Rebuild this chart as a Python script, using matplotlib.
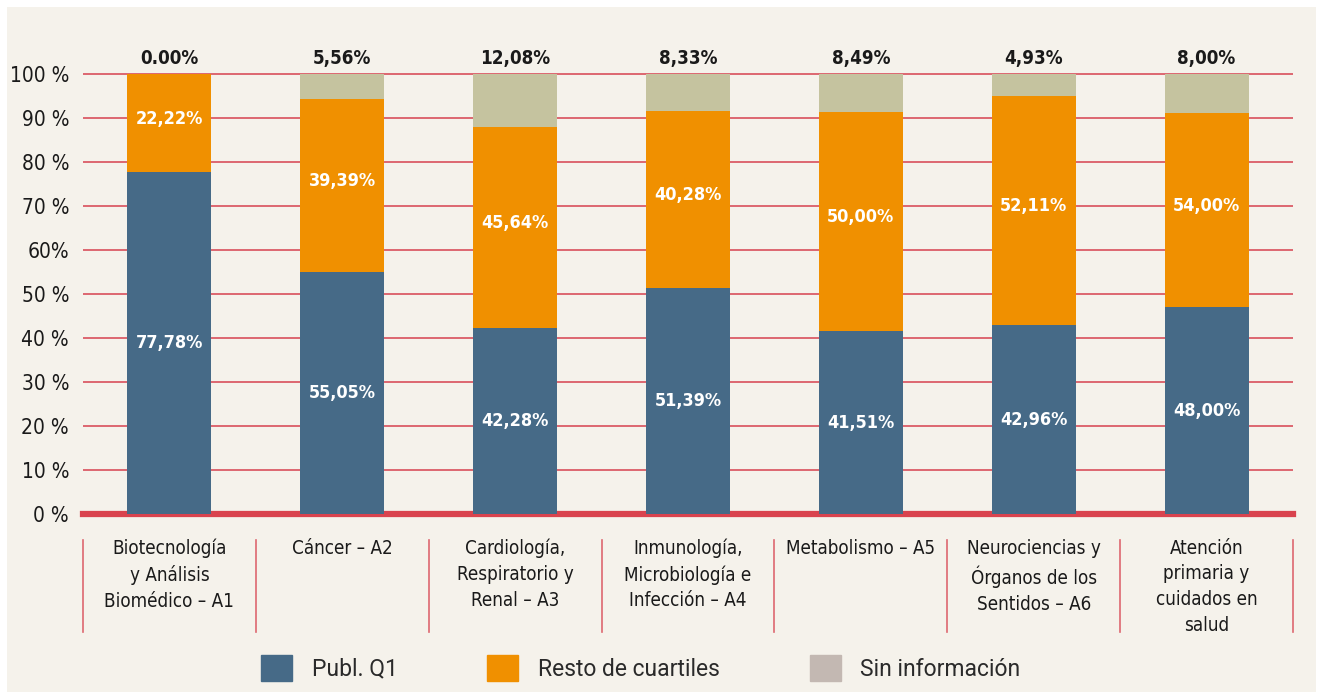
import matplotlib
matplotlib.use('Agg')
import matplotlib.pyplot as plt
from matplotlib.patches import Rectangle, Patch

plt.rcParams['font.family'] = ['DejaVu Sans']
plt.rcParams['font.stretch'] = 'condensed'

categories = ['Biotecnología\ny Análisis\nBiomédico – A1', 'Cáncer – A2',
              'Cardiología,\nRespiratorio y\nRenal – A3', 'Inmunología,\nMicrobiología e\nInfección – A4',
              'Metabolismo – A5', 'Neurociencias y\nÓrganos de los\nSentidos – A6',
              'Atención\nprimaria y\ncuidados en\nsalud']
# heights as drawn in the original (last group is rescaled there)
q1 = [77.78, 55.05, 42.28, 51.39, 41.51, 42.96, 47.0]
resto = [22.22, 39.39, 45.64, 40.28, 50.00, 52.11, 44.2]
sin_info = [0.00, 5.56, 12.08, 8.33, 8.49, 4.93, 8.8]
# labels as printed
q1_lbl = ['77,78%', '55,05%', '42,28%', '51,39%', '41,51%', '42,96%', '48,00%']
resto_lbl = ['22,22%', '39,39%', '45,64%', '40,28%', '50,00%', '52,11%', '54,00%']
sin_lbl = ['0.00%', '5,56%', '12,08%', '8,33%', '8,49%', '4,93%', '8,00%']
yticks = [0, 10, 20, 30, 40, 50, 60, 70, 80, 90, 100]
ytick_lbl = ['0 %', '10 %', '20 %', '30 %', '40 %', '50 %', '60%', '70 %', '80 %', '90 %', '100 %']

c_blue = '#466A87'
c_orange = '#F09000'
c_grey = '#C5C39F'
c_grey_leg = '#C3B8B2'
c_red = '#DD6770'
bg = '#F5F2EB'

fig = plt.figure(figsize=(13.23, 6.99), dpi=100, facecolor='white')
fig.add_artist(Rectangle((7/1323, 7/699), 1309/1323, 685/699, transform=fig.transFigure,
                         facecolor=bg, edgecolor='none', zorder=0))
ax = fig.add_axes([83/1323, (699-514)/699, 1210/1323, 441/699])
ax.set_facecolor('none')

x = list(range(len(categories)))
w = 0.486
bottom2 = [a + b for a, b in zip(q1, resto)]
ax.bar(x, q1, w, color=c_blue, zorder=3)
ax.bar(x, resto, w, bottom=q1, color=c_orange, zorder=3)
ax.bar(x, sin_info, w, bottom=bottom2, color=c_grey, zorder=3)

for i in x:
    ax.text(i, q1[i] / 2, q1_lbl[i], ha='center', va='center', color='white',
            fontsize=13, fontweight='bold', zorder=4)
    ax.text(i, q1[i] + resto[i] / 2 + 1, resto_lbl[i], ha='center', va='center', color='white',
            fontsize=13, fontweight='bold', zorder=4)
    ax.text(i, 103.7, sin_lbl[i], ha='center', va='center', color='#1a1a1a',
            fontsize=13.5, fontweight='bold', clip_on=False)
    ax.text(i, -5.6, categories[i], ha='center', va='top', color='#1a1a1a',
            fontsize=13.5, linespacing=1.45, clip_on=False)

for i in range(len(categories) + 1):
    ax.plot([i - 0.5, i - 0.5], [-5.8, -26.8], color=c_red, lw=1.2, clip_on=False)

ax.set_xlim(-0.5, len(categories) - 0.5)
ax.set_ylim(0, 100.3)
ax.set_yticks(yticks)
ax.set_yticklabels(ytick_lbl, fontsize=15, color='#1a1a1a')
ax.set_xticks([])
ax.tick_params(axis='y', length=0, pad=10)
ax.yaxis.grid(True, color=c_red, lw=1.4, zorder=1)
ax.axhline(0, color='#D9434E', lw=4.5, zorder=2, clip_on=False)
for s in ax.spines.values():
    s.set_visible(False)

handles = [Patch(color=c_blue), Patch(color=c_orange), Patch(color=c_grey_leg)]
fig.legend(handles, ['Publ. Q1', 'Resto de cuartiles', 'Sin información'],
           loc='center', bbox_to_anchor=(0.4845, 0.0443), ncol=3, frameon=False,
           handlelength=1.35, handleheight=1.35, handletextpad=0.87, columnspacing=3.9,
           labelcolor='#2a2a2a',
           prop={'family': ['Roboto', 'DejaVu Sans'], 'stretch': 'normal', 'size': 16.5})

fig.savefig('out.png', dpi=100, facecolor='white')
